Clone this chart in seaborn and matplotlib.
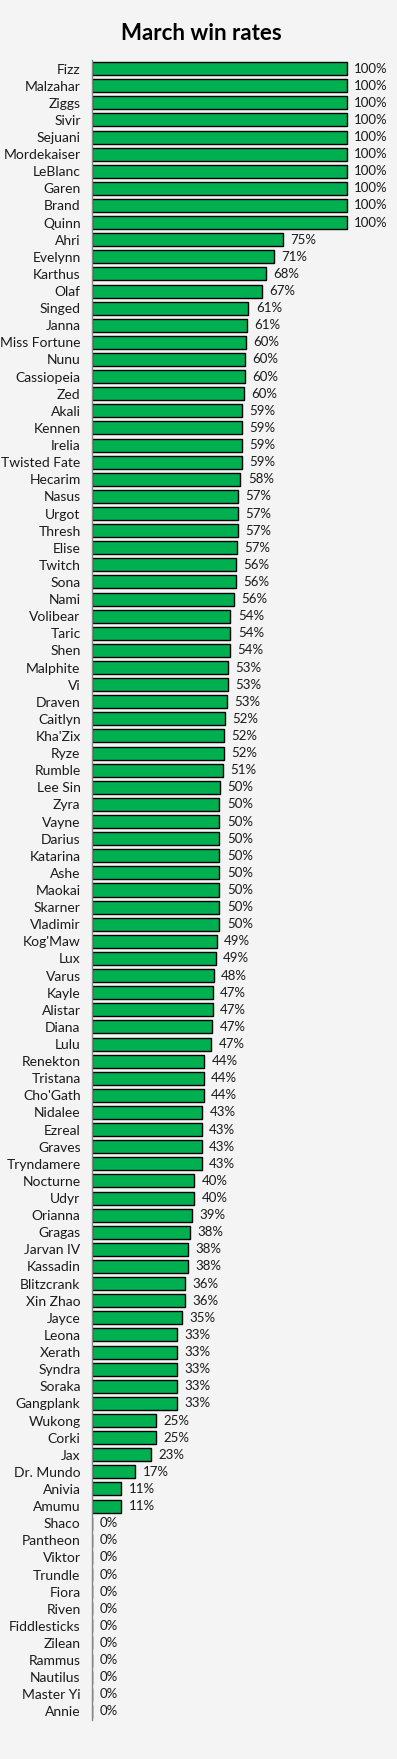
import matplotlib
matplotlib.use("Agg")
import matplotlib.pyplot as plt
import seaborn as sns
import pandas as pd

# --- данные: чемпионы и винрейт за март (%) ---
champions = [
    "Fizz", "Malzahar", "Ziggs", "Sivir", "Sejuani", "Mordekaiser", "LeBlanc", "Garen", "Brand", "Quinn",
    "Ahri", "Evelynn", "Karthus", "Olaf", "Singed", "Janna", "Miss Fortune", "Nunu", "Cassiopeia", "Zed",
    "Akali", "Kennen", "Irelia", "Twisted Fate", "Hecarim", "Nasus", "Urgot", "Thresh", "Elise", "Twitch",
    "Sona", "Nami", "Volibear", "Taric", "Shen", "Malphite", "Vi", "Draven", "Caitlyn", "Kha'Zix",
    "Ryze", "Rumble", "Lee Sin", "Zyra", "Vayne", "Darius", "Katarina", "Ashe", "Maokai", "Skarner",
    "Vladimir", "Kog'Maw", "Lux", "Varus", "Kayle", "Alistar", "Diana", "Lulu", "Renekton", "Tristana",
    "Cho'Gath", "Nidalee", "Ezreal", "Graves", "Tryndamere", "Nocturne", "Udyr", "Orianna", "Gragas", "Jarvan IV",
    "Kassadin", "Blitzcrank", "Xin Zhao", "Jayce", "Leona", "Xerath", "Syndra", "Soraka", "Gangplank", "Wukong",
    "Corki", "Jax", "Dr. Mundo", "Anivia", "Amumu",
    "Shaco", "Pantheon", "Viktor", "Trundle", "Fiora", "Riven", "Fiddlesticks", "Zilean", "Rammus",
    "Nautilus", "Master Yi", "Annie",
]
win_rates = [
    100, 100, 100, 100, 100, 100, 100, 100, 100, 100,
    74.9, 71.4, 68.2, 66.7, 61.4, 60.8, 60.4, 60.0, 60.0, 59.6,
    58.8, 58.8, 58.8, 58.8, 58.3, 57.3, 57.3, 57.3, 56.9, 56.4,
    56.4, 55.7, 54.4, 54.4, 54.1, 53.3, 53.3, 52.9, 52.2, 51.8,
    51.8, 51.4, 50.2, 50.0, 50.0, 50.0, 50.0, 50.0, 50.0, 50.0,
    50.0, 49.0, 48.6, 47.8, 47.4, 47.4, 47.1, 46.7, 44.2, 43.9,
    43.9, 43.4, 43.1, 43.1, 43.1, 40.0, 40.0, 39.2, 38.4, 37.6,
    37.6, 36.4, 36.4, 35.3, 33.3, 33.3, 33.3, 33.3, 33.3, 25.1,
    25.1, 23.1, 16.9, 11.4, 11.4,
    0, 0, 0, 0, 0, 0, 0, 0, 0, 0, 0, 0,
]

df = pd.DataFrame({"champion": champions, "win": win_rates})

sns.set_theme(style="white")
plt.rcParams["font.family"] = ["Lato", "DejaVu Sans"]

BG = "#f4f4f4"
fig = plt.figure(figsize=(3.97, 17.59), dpi=100, facecolor=BG)
W, H = 397, 1759
ax = fig.add_axes([91.7 / W, (H - 1720) / H, 306 / W, 1660 / H])
ax.set_facecolor(BG)

sns.barplot(data=df, y="champion", x="win", orient="h", color="#00b050",
            saturation=1, edgecolor="black", linewidth=1.0, width=0.76, ax=ax)

ax.set_xlim(0, 120)
ax.set_ylim(len(champions) - 0.5, -0.5)
ax.set_xlabel("")
ax.set_ylabel("")
ax.set_xticks([])
for side in ["top", "right", "bottom"]:
    ax.spines[side].set_visible(False)
ax.spines["left"].set_color("#868686")
ax.spines["left"].set_linewidth(1.0)
ax.tick_params(axis="y", length=0, pad=8, labelsize=10, labelcolor="#1a1a1a")

for i, v in enumerate(win_rates):
    ax.annotate(f"{v:.0f}%", xy=(v, i), xytext=(5.5, 0), textcoords="offset points",
                ha="left", va="center", fontsize=9.5, color="#1a1a1a")

fig.text(201 / W, 1 - 33 / H, "March win rates", ha="center", va="center",
         fontsize=16, fontweight="bold", color="black")

fig.savefig("out.png", dpi=100, facecolor=BG)
